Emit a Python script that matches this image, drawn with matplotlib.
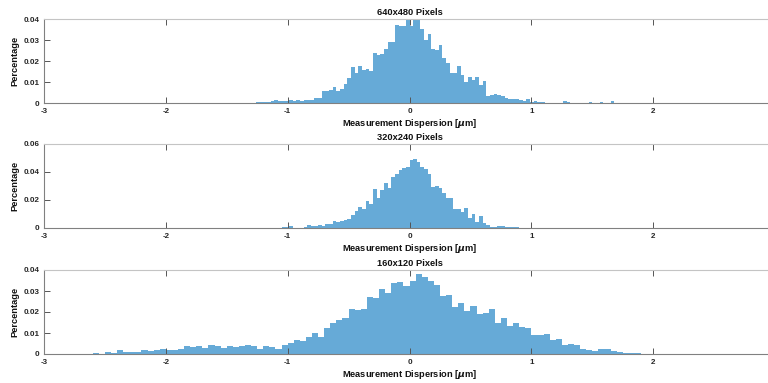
import matplotlib
matplotlib.use("Agg")
import matplotlib.pyplot as plt
import numpy as np

plt.rcParams["font.family"] = ["Liberation Sans", "DejaVu Sans"]
plt.rcParams["font.weight"] = "bold"
plt.rcParams["mathtext.fontset"] = "dejavusans"

TITLES = ["640x480 Pixels", "320x240 Pixels", "160x120 Pixels"]
X_LABEL = r"Measurement Dispersion [$\mu$m]"
Y_LABEL = "Percentage"
X_TICKS = [-3, -2, -1, 0, 1, 2]

# 640x480: bins of 0.03 starting at -1.32
TOP_START, TOP_WIDTH = -1.32, 0.03
TOP_HEIGHTS = [
    0.0002, 0.0003, 0.0004, 0.0006, 0.0006, 0.0008, 0.0012, 0.0015, 0.0012, 0.0012,
    0.0013, 0.0014, 0.0013, 0.0016, 0.0013, 0.0017, 0.0016, 0.0018, 0.0025, 0.0024,
    0.0058, 0.0060, 0.0064, 0.0076, 0.0060, 0.0070, 0.0092, 0.0119, 0.0171, 0.0143,
    0.0178, 0.0159, 0.0165, 0.0156, 0.0238, 0.0230, 0.0235, 0.0257, 0.0293, 0.0290,
    0.0372, 0.0370, 0.0368, 0.0400, 0.0370, 0.0400, 0.0395, 0.0356, 0.0303, 0.0330,
    0.0257, 0.0256, 0.0276, 0.0218, 0.0194, 0.0143, 0.0143, 0.0178, 0.0135, 0.0103,
    0.0124, 0.0111, 0.0124, 0.0087, 0.0108, 0.0035, 0.0040, 0.0043, 0.0038, 0.0035,
    0.0024, 0.0020, 0.0019, 0.0019, 0.0017, 0.0013, 0.0020, 0.0006, 0.0012, 0.0008,
    0.0004, 0.0003, 0.0002, 0.0002, 0.0002, 0.0003, 0.0011, 0.0004, 0.0002, 0.0,
    0.0002, 0.0, 0.0002, 0.0006, 0.0, 0.0003, 0.0006, 0.0, 0.0002, 0.0009,
]

# 320x240: bins of 0.03 starting at -1.32
MID_START, MID_WIDTH = -1.32, 0.03
MID_HEIGHTS = [
    0.0, 0.0, 0.0, 0.0, 0.0, 0.0, 0.0003, 0.0002, 0.0001, 0.0005,
    0.0007, 0.0012, 0.0002, 0.0002, 0.0003, 0.0004, 0.0021, 0.0017, 0.0017, 0.0021,
    0.0017, 0.0026, 0.0026, 0.0048, 0.0045, 0.0048, 0.0055, 0.0062, 0.0093, 0.0121,
    0.0152, 0.0136, 0.0193, 0.0169, 0.0278, 0.0212, 0.0271, 0.0319, 0.0288, 0.0367,
    0.0388, 0.0414, 0.0426, 0.0438, 0.0486, 0.0493, 0.0474, 0.0436, 0.0420, 0.0383,
    0.0295, 0.0302, 0.0283, 0.0247, 0.0217, 0.0212, 0.0136, 0.0136, 0.0117, 0.0140,
    0.0074, 0.0098, 0.0040, 0.0088, 0.0033, 0.0021, 0.0010, 0.0007, 0.0012, 0.0012,
    0.0005, 0.0004, 0.0005, 0.0004, 0.0002,
]

# 160x120: bins of 0.05 starting at -2.60
BOT_START, BOT_WIDTH = -2.60, 0.05
BOT_HEIGHTS = [
    0.0003, 0.0002, 0.0008, 0.0003, 0.0017, 0.0008, 0.0008, 0.0011, 0.0019, 0.0014,
    0.0017, 0.0022, 0.0021, 0.0017, 0.0022, 0.0038, 0.0035, 0.0037, 0.0030, 0.0041,
    0.0038, 0.0027, 0.0037, 0.0035, 0.0037, 0.0041, 0.0038, 0.0022, 0.0038, 0.0033,
    0.0024, 0.0041, 0.0051, 0.0067, 0.0063, 0.0079, 0.0102, 0.0079, 0.0122, 0.0146,
    0.0162, 0.0170, 0.0213, 0.0209, 0.0214, 0.0273, 0.0265, 0.0309, 0.0289, 0.0336,
    0.0341, 0.0324, 0.0349, 0.0381, 0.0365, 0.0349, 0.0329, 0.0276, 0.0281, 0.0222,
    0.0244, 0.0206, 0.0229, 0.0190, 0.0194, 0.0213, 0.0146, 0.0170, 0.0133, 0.0149,
    0.0130, 0.0124, 0.0089, 0.0092, 0.0095, 0.0067, 0.0070, 0.0043, 0.0048, 0.0041,
    0.0022, 0.0019, 0.0016, 0.0022, 0.0022, 0.0013, 0.0010, 0.0005, 0.0003, 0.0003,
    0.0002, 0.0001,
]

Y_LIMITS = [0.04, 0.06, 0.04]
Y_TICKS = [
    [0, 0.01, 0.02, 0.03, 0.04],
    [0, 0.02, 0.04, 0.06],
    [0, 0.01, 0.02, 0.03, 0.04],
]

BAR_COLOR = "#66aad7"
W, H = 768, 383

fig = plt.figure(figsize=(W / 100, H / 100), dpi=100)

# axes boxes in pixels: (left, top, right, bottom)
boxes = [(44, 19.3, 775, 103.3), (44, 144, 775, 228), (44, 270, 775, 354)]
series = [
    (TOP_START, TOP_WIDTH, TOP_HEIGHTS),
    (MID_START, MID_WIDTH, MID_HEIGHTS),
    (BOT_START, BOT_WIDTH, BOT_HEIGHTS),
]

for i, ((l, t, r, b), (start, width, heights)) in enumerate(zip(boxes, series)):
    ax = fig.add_axes([l / W, 1 - b / H, (r - l) / W, (b - t) / H])
    lefts = start + width * np.arange(len(heights))
    ax.bar(lefts, heights, width=width, align="edge", color=BAR_COLOR,
           edgecolor="none", linewidth=0)
    ax.set_xlim(-3, 3)
    ax.set_ylim(0, Y_LIMITS[i])
    ax.set_xticks(X_TICKS)
    ax.set_xticklabels([f"{v:g}" for v in X_TICKS])
    ax.set_yticks(Y_TICKS[i])
    ax.set_yticklabels([f"{v:g}" for v in Y_TICKS[i]])
    ax.tick_params(direction="in", length=4.5, width=0.7, colors="#555555",
                   labelcolor="#262626", labelsize=5.8, top=True, right=True, pad=3.5)
    for side in ["bottom", "left"]:
        ax.spines[side].set_color("#808080")
        ax.spines[side].set_linewidth(0.8)
    for side in ["top", "right"]:
        ax.spines[side].set_color("#c4c4c4")
        ax.spines[side].set_linewidth(0.8)
    ax.set_title(TITLES[i], fontsize=6.7, fontweight="bold", color="#111111", pad=3)
    ax.set_xlabel(X_LABEL, fontsize=6.7, fontweight="bold", color="#111111", labelpad=1.5)
    ax.set_ylabel(Y_LABEL, fontsize=6.7, fontweight="bold", color="#111111", labelpad=3)

fig.savefig("out.png", dpi=100)
